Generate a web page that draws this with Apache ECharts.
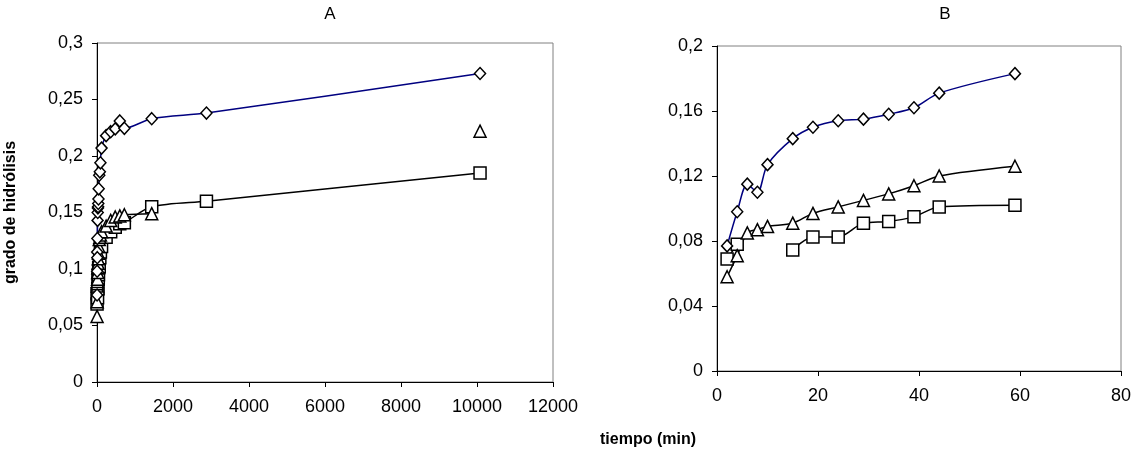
<!DOCTYPE html>
<html>
<head>
<meta charset="utf-8">
<script src="https://cdn.jsdelivr.net/npm/echarts@6/dist/echarts.min.js"></script>
<style>
  html, body { margin: 0; padding: 0; background: #fff; }
  #chart { width: 1138px; height: 455px; }
</style>
</head>
<body>
<div id="chart"></div>
<script>
// tiempo (min) for the first hour, shared by both panels
const tiempoCorto = [2, 4, 6, 8, 10, 15, 19, 24, 29, 34, 39, 44, 59]
// longer times, only shown in panel A
const tiempoLargo = [75, 90, 120, 240, 360, 480, 600, 720, 1440, 2880, 10080]

// grado de hidrolisis, first hour
const rombosCorto = [0.077, 0.098, 0.115, 0.110, 0.127, 0.143, 0.150, 0.154, 0.155, 0.158, 0.162, 0.171, 0.183]
const triangulosCorto = [0.058, 0.071, 0.085, 0.087, 0.089, 0.091, 0.097, 0.101, 0.105, 0.109, 0.114, 0.120, 0.126]
const cuadradosCorto = [0.069, 0.078, null, null, null, 0.0745, 0.0825, 0.0825, 0.091, 0.092, 0.095, 0.101, 0.102]

// grado de hidrolisis, longer times
const rombosLargo = [0.186, 0.194, 0.207, 0.218, 0.2215, 0.224, 0.231, 0.2245, 0.233, 0.238, 0.273]
const triangulosLargo = [0.128, 0.130, 0.133, 0.138, 0.143, 0.146, 0.147, 0.148, 0.149, null, 0.222]
const cuadradosLargo = [0.110, 0.115, 0.120, 0.128, 0.133, 0.137, 0.140, 0.141, 0.155, 0.160, 0.185]

const ticksA = { xMax: 12000, xInterval: 2000, yMax: 0.3, yInterval: 0.05 }
const ticksB = { xMax: 80, xInterval: 20, yMax: 0.2, yInterval: 0.04 }

const FONT = "'Liberation Sans', Arial, sans-serif"

function pares (ts, vs) {
  return ts.map((t, i) => [t, vs[i] == null ? '-' : vs[i]])
}

function coma (v) {
  return String(Number(v.toFixed(4))).replace('.', ',')
}

const el = document.getElementById('chart')
const chart = echarts.init(el, null, { renderer: 'canvas', width: 1138, height: 455 })

function ejeX (idx, t) {
  return {
    type: 'value', gridIndex: idx, min: 0, max: t.xMax, interval: t.xInterval,
    axisLine: { onZero: false, lineStyle: { color: '#000', width: 1 } },
    axisTick: { show: true, length: 5, lineStyle: { color: '#000' } },
    axisLabel: { color: '#000', fontSize: 18, fontFamily: FONT, margin: 16, formatter: v => String(v) },
    splitLine: { show: false }
  }
}

function ejeY (idx, t, nombre) {
  return {
    type: 'value', gridIndex: idx, min: 0, max: t.yMax, interval: t.yInterval,
    name: nombre, nameLocation: 'middle', nameGap: 78, nameRotate: 90,
    nameTextStyle: { color: '#000', fontSize: 16, fontWeight: 'bold', fontFamily: FONT },
    axisLine: { show: true, onZero: false, lineStyle: { color: '#000', width: 1 } },
    axisTick: { show: true, length: 5, lineStyle: { color: '#000' } },
    axisLabel: { color: '#000', fontSize: 18, fontFamily: FONT, margin: 14, formatter: coma },
    splitLine: { show: false }
  }
}

function serie (idx, datos, simbolo, tam, color) {
  return {
    type: 'line', xAxisIndex: idx, yAxisIndex: idx, data: datos,
    smooth: 0.3, symbol: simbolo, symbolSize: tam, showAllSymbol: true,
    lineStyle: { color: color, width: 1.5 },
    itemStyle: { color: '#fff', borderColor: '#000', borderWidth: 1.5 },
    connectNulls: false, animation: false
  }
}

const option = {
  animation: false,
  backgroundColor: '#fff',
  title: [
    { text: 'A', left: 325, top: 1, textAlign: 'center', textStyle: { fontSize: 17, fontWeight: 'normal', color: '#000', fontFamily: FONT } },
    { text: 'B', left: 940, top: 1, textAlign: 'center', textStyle: { fontSize: 17, fontWeight: 'normal', color: '#000', fontFamily: FONT } }
  ],
  grid: [
    { left: 97, top: 43, width: 456, height: 339, show: true, borderColor: '#808080', borderWidth: 1, backgroundColor: '#fff' },
    { left: 717, top: 46, width: 404, height: 325, show: true, borderColor: '#808080', borderWidth: 1, backgroundColor: '#fff' }
  ],
  xAxis: [ejeX(0, ticksA), ejeX(1, ticksB)],
  yAxis: [ejeY(0, ticksA, 'grado de hidrólisis'), ejeY(1, ticksB, '')],
  graphic: [
    { type: 'text', left: 600, top: 432, style: { text: 'tiempo (min)', fontSize: 16, fontWeight: 'bold', fontFamily: FONT, fill: '#000' } }
  ],
  series: [
    serie(0, pares(tiempoCorto.concat(tiempoLargo), cuadradosCorto.concat(cuadradosLargo)), 'rect', 12, '#000'),
    serie(0, pares(tiempoCorto.concat(tiempoLargo), triangulosCorto.concat(triangulosLargo)), 'triangle', 12, '#000'),
    serie(0, pares(tiempoCorto.concat(tiempoLargo), rombosCorto.concat(rombosLargo)), 'diamond', [11, 12], '#000080'),
    serie(1, pares(tiempoCorto, cuadradosCorto), 'rect', 12, '#000'),
    serie(1, pares(tiempoCorto, triangulosCorto), 'triangle', 12, '#000'),
    serie(1, pares(tiempoCorto, rombosCorto), 'diamond', [11, 12], '#000080')
  ]
}

chart.setOption(option)
</script>
</body>
</html>
